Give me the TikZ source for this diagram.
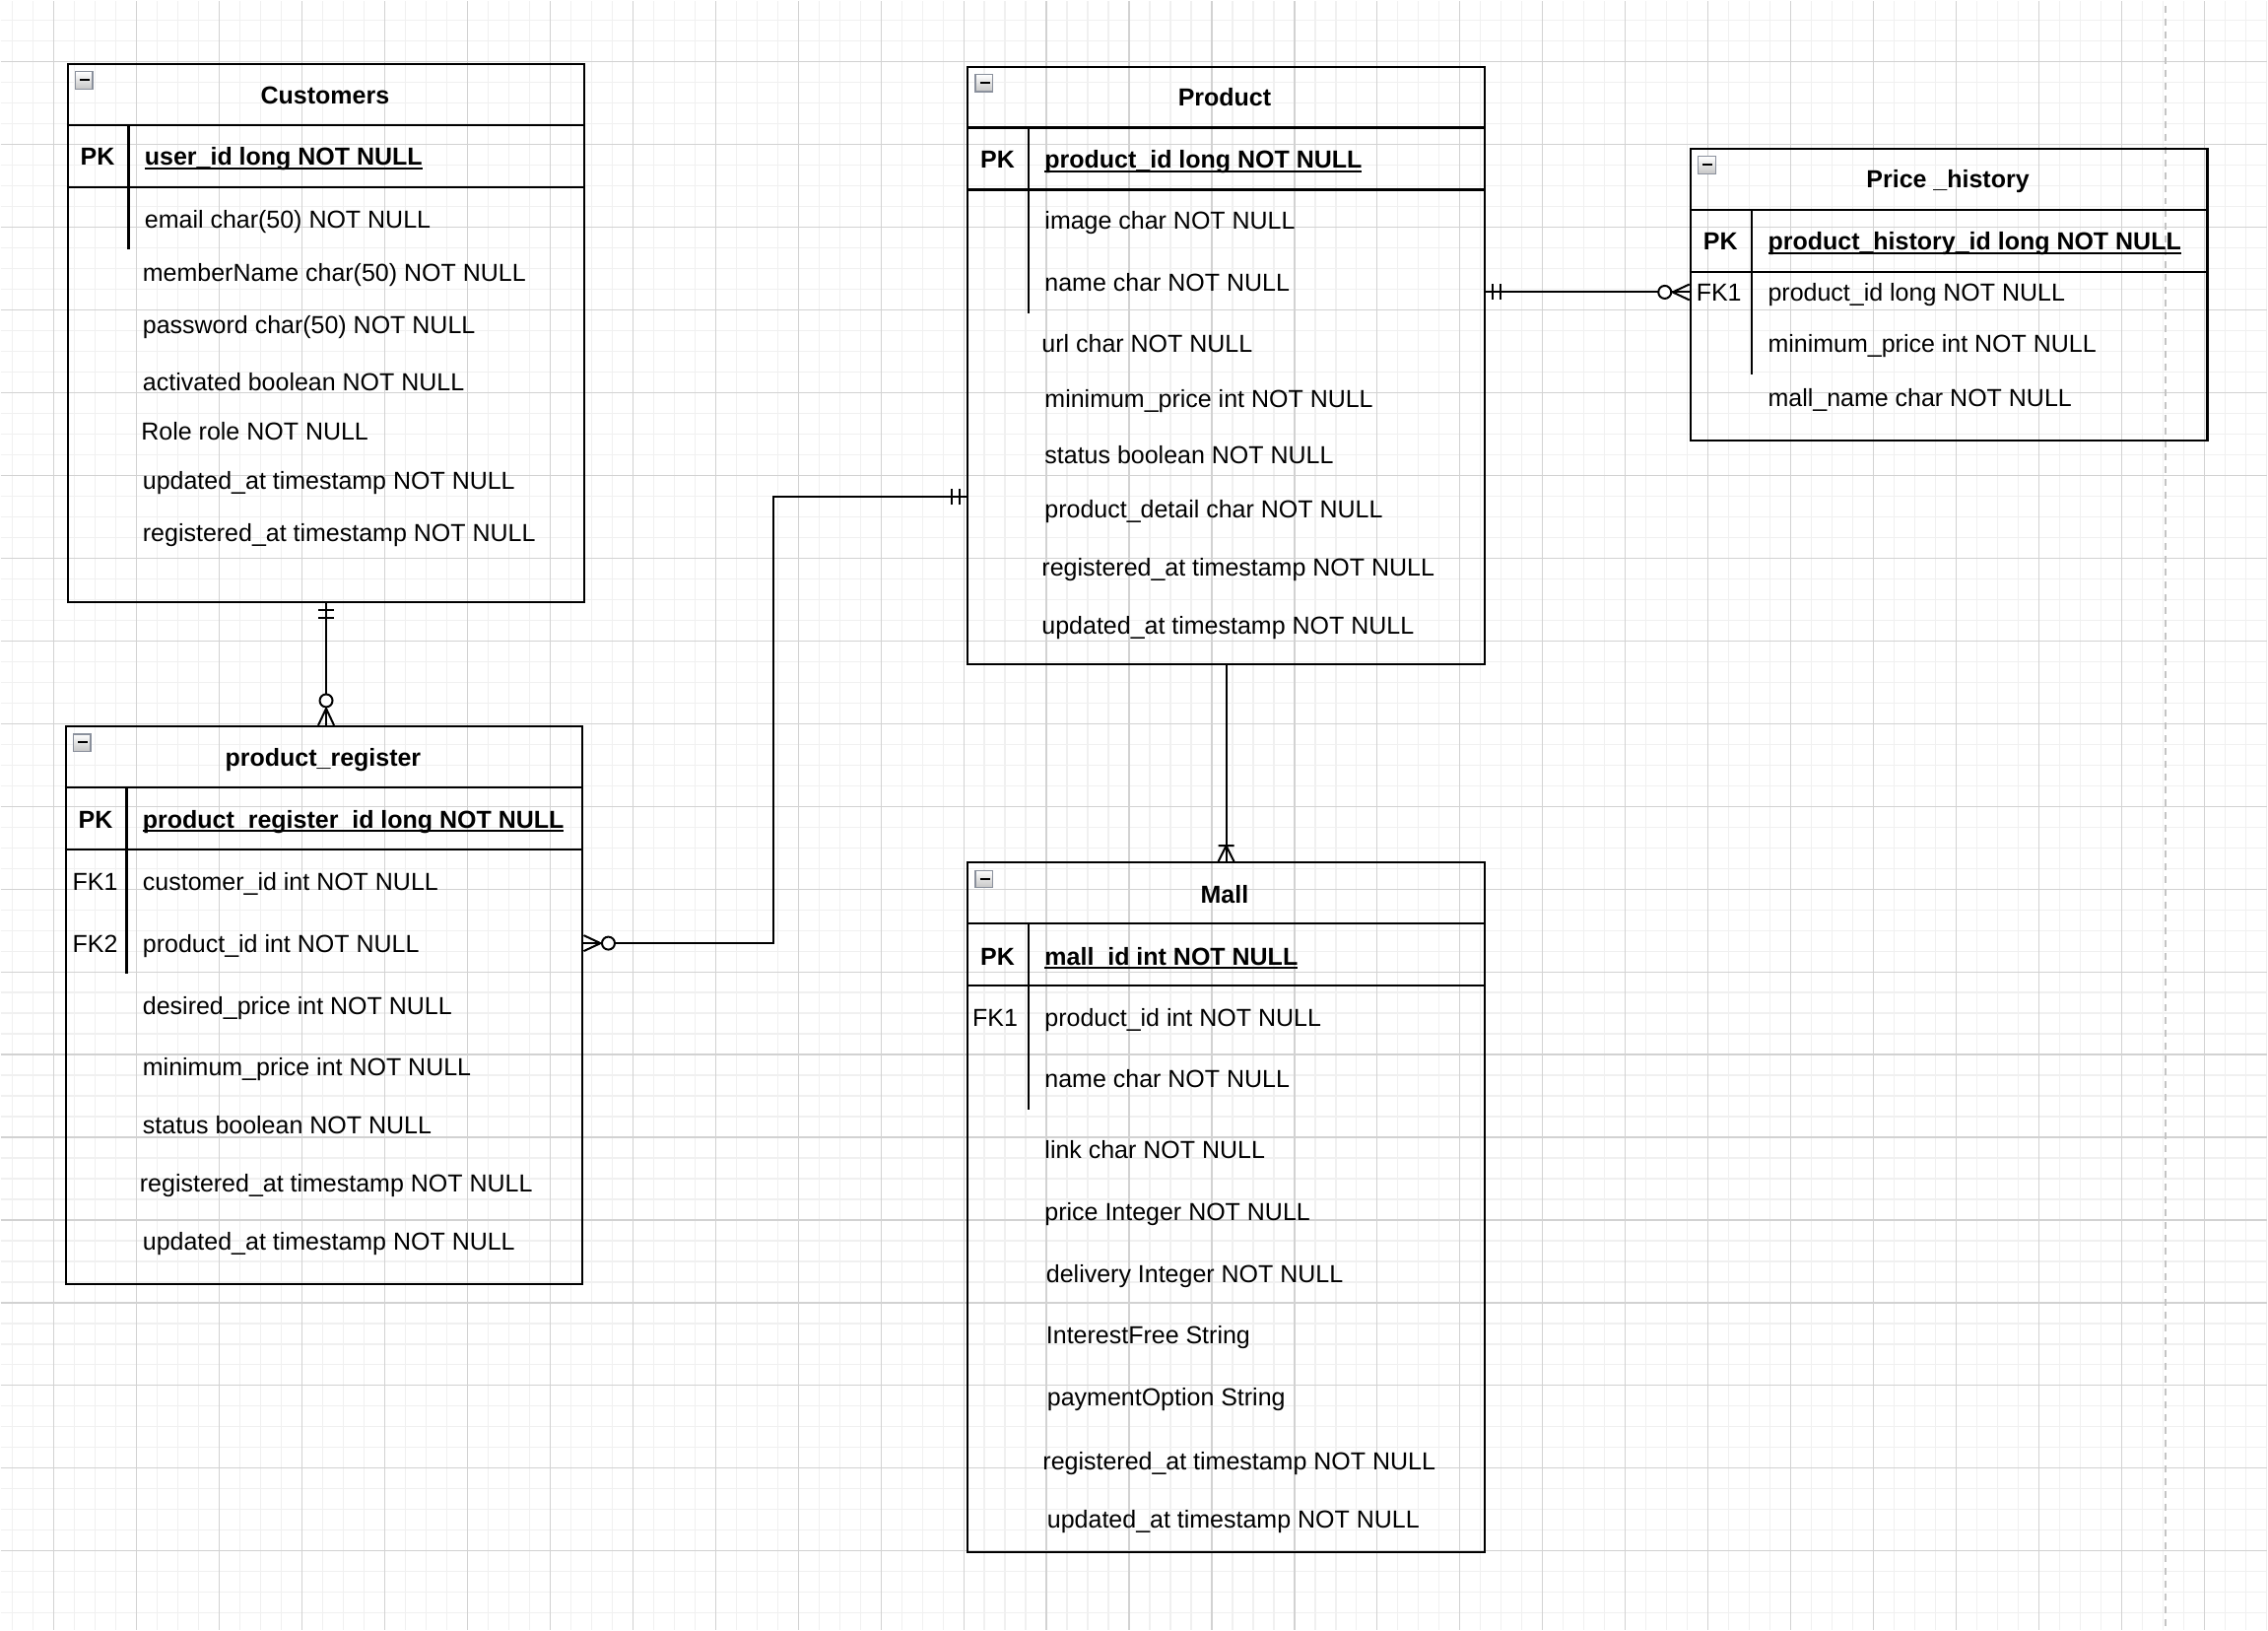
\documentclass[tikz,border=0pt]{standalone}
\usepackage{fontspec}
\setmainfont{Liberation Sans}
\usepackage{xcolor}
\usepackage{tikz}
\usetikzlibrary{positioning, calc}

\definecolor{gridminor}{HTML}{F0F0F0}
\definecolor{gridmajor}{HTML}{D2D2D2}
\definecolor{pagecut}{HTML}{C4C4C4}
\definecolor{iconedge}{HTML}{8A909C}

\newcommand{\erfont}{\fontsize{12.5}{15}\selectfont}
\newsavebox{\pkbox}
\newcommand{\pkfield}[1]{\sbox{\pkbox}{#1}\rlap{\rule[-2.1pt]{\wd\pkbox}{1pt}}\usebox{\pkbox}}

\begin{document}
\begin{tikzpicture}[
    x=0.5pt, y=-0.5pt,
    ertable/.style={draw, rectangle, line width=1.1pt, inner sep=0pt, anchor=north west, minimum width=262.5pt},
    tline/.style={line width=1.1pt},
    tabtitle/.style={font=\erfont\bfseries, inner sep=0pt, text height=8.95pt, text depth=0pt},
    keycell/.style={font=\erfont, inner sep=0pt, text height=8.95pt, text depth=0pt},
    pkcell/.style={keycell, font=\erfont\bfseries},
    rowcell/.style={font=\erfont, anchor=west, inner sep=0pt, text height=8.95pt, text depth=0pt},
    pkrow/.style={rowcell, font=\erfont\bfseries},
    rel/.style={line width=1pt},
    cutline/.style={draw=pagecut, line width=1pt, dash pattern=on 3.5pt off 3pt},
    foldicon/.pic={
        \draw[draw=iconedge, line width=0.6pt, top color=white, bottom color=gray!45] (9,9) rectangle (26.5,26.5);
        \draw[line width=1pt] (13.5,17.5) -- (23.5,17.5);
    },
    erone/.pic={\draw[rel] (7,-8) -- (7,8) (15,-8) -- (15,8);},
    erzeromany/.pic={
        \draw[rel] (0,-8) -- (17,0) -- (0,8);
        \draw[rel, fill=white] (25,0) circle (6.5);
    },
    eronemany/.pic={\draw[rel] (0,-8) -- (16,0) -- (0,8) (16,-8) -- (16,8);}
]
% --- CANVAS GRID ---
\fill[white] (0,0) rectangle (2302,1654);
\begin{scope}[shift={(12,20)}]
\draw[gridminor, line width=0.6pt, step=10.5pt] (-12,1634) grid (2290,-20);
\end{scope}
\begin{scope}[shift={(54,62)}]
\draw[gridmajor, line width=0.6pt, step=42pt] (-54,1592) grid (2248,-62);
\end{scope}
\useasboundingbox (0,0) rectangle (2302,1654);
\draw[cutline] (2199,5) -- (2199,1654);

% --- CUSTOMERS ---
\node[ertable, minimum height=273pt] (cust) at (67,63.3) {};
\pic at (cust.north west) {foldicon};
\draw[tline] ([yshift=-31.5pt]cust.north west) -- ([yshift=-31.5pt]cust.north east);
\draw[tline] ([yshift=-63pt]cust.north west) -- ([yshift=-63pt]cust.north east);
\draw[tline] ([xshift=31.5pt, yshift=-31.5pt]cust.north west) -- ++(0,126);
\node[tabtitle] (cust-title) at (329.5,96) {Customers};
\node[pkcell] (cust-pk) at (98.5,158.5) {PK};
\node[pkrow] (cust-id) at (146,158.5) {\pkfield{user\_id long NOT NULL}};
\node[rowcell] (cust-email) at (146,221.7) {email char(50) NOT NULL};
\node[rowcell] (cust-member) at (144,276) {memberName char(50) NOT NULL};
\node[rowcell] (cust-pass) at (144,329) {password char(50) NOT NULL};
\node[rowcell] (cust-active) at (144,387.5) {activated boolean NOT NULL};
\node[rowcell] (cust-role) at (142.5,437.5) {Role role NOT NULL};
\node[rowcell] (cust-upd) at (144,487.5) {updated\_at timestamp NOT NULL};
\node[rowcell] (cust-reg) at (144,540) {registered\_at timestamp NOT NULL};

% --- PRODUCT_REGISTER ---
\node[ertable, minimum height=283pt] (preg) at (65,735.7) {};
\pic at (preg.north west) {foldicon};
\draw[tline] ([yshift=-31.5pt]preg.north west) -- ([yshift=-31.5pt]preg.north east);
\draw[tline] ([yshift=-63pt]preg.north west) -- ([yshift=-63pt]preg.north east);
\draw[tline] ([xshift=31.5pt, yshift=-31.5pt]preg.north west) -- ++(0,189);
\node[tabtitle] (preg-title) at (327.5,768) {product\_register};
\node[pkcell] (preg-pk) at (96.5,831) {PK};
\node[pkrow] (preg-id) at (144,831) {\pkfield{product\_register\_id long NOT NULL}};
\node[keycell] (preg-fk1) at (96,894) {FK1};
\node[rowcell] (preg-cust) at (144,894) {customer\_id int NOT NULL};
\node[keycell] (preg-fk2) at (96,957) {FK2};
\node[rowcell] (preg-prod) at (144,957) {product\_id int NOT NULL};
\node[rowcell] (preg-desired) at (144,1020) {desired\_price int NOT NULL};
\node[rowcell] (preg-min) at (144,1083) {minimum\_price int NOT NULL};
\node[rowcell] (preg-status) at (144,1142) {status boolean NOT NULL};
\node[rowcell] (preg-reg) at (141,1201) {registered\_at timestamp NOT NULL};
\node[rowcell] (preg-upd) at (144,1259.5) {updated\_at timestamp NOT NULL};

% --- PRODUCT ---
\node[ertable, minimum height=303.25pt] (prod) at (981,66) {};
\pic at (prod.north west) {foldicon};
\draw[tline] ([yshift=-31.5pt]prod.north west) -- ([yshift=-31.5pt]prod.north east);
\draw[tline] ([yshift=-63pt]prod.north west) -- ([yshift=-63pt]prod.north east);
\draw[tline] ([xshift=31.5pt, yshift=-31.5pt]prod.north west) -- ++(0,189);
\node[tabtitle] (prod-title) at (1243,98.5) {Product};
\node[pkcell] (prod-pk) at (1012.5,161) {PK};
\node[pkrow] (prod-id) at (1060,161) {\pkfield{product\_id long NOT NULL}};
\node[rowcell] (prod-image) at (1060,223.5) {image char NOT NULL};
\node[rowcell] (prod-name) at (1060,286) {name char NOT NULL};
\node[rowcell] (prod-url) at (1057,348) {url char NOT NULL};
\node[rowcell] (prod-min) at (1060,403.7) {minimum\_price int NOT NULL};
\node[rowcell] (prod-status) at (1060,461) {status boolean NOT NULL};
\node[rowcell] (prod-detail) at (1060,516.7) {product\_detail char NOT NULL};
\node[rowcell] (prod-reg) at (1057,575.5) {registered\_at timestamp NOT NULL};
\node[rowcell] (prod-upd) at (1057,634) {updated\_at timestamp NOT NULL};

% --- PRICE_HISTORY ---
\node[ertable, minimum height=148pt] (ph) at (1715,149.3) {};
\pic at (ph.north west) {foldicon};
\draw[tline] ([yshift=-31.5pt]ph.north west) -- ([yshift=-31.5pt]ph.north east);
\draw[tline] ([yshift=-63pt]ph.north west) -- ([yshift=-63pt]ph.north east);
\draw[tline] ([xshift=31.5pt, yshift=-31.5pt]ph.north west) -- ++(0,167);
\node[tabtitle] (ph-title) at (1977.5,181.5) {Price \_history};
\node[pkcell] (ph-pk) at (1746.5,244) {PK};
\node[pkrow] (ph-id) at (1794.5,244) {\pkfield{product\_history\_id long NOT NULL}};
\node[keycell] (ph-fk1) at (1745,296) {FK1};
\node[rowcell] (ph-prod) at (1794.5,296) {product\_id long NOT NULL};
\node[rowcell] (ph-min) at (1794.5,348.5) {minimum\_price int NOT NULL};
\node[rowcell] (ph-mall) at (1794.5,403.5) {mall\_name char NOT NULL};

% --- MALL ---
\node[ertable, minimum height=350.25pt] (mall) at (981,874) {};
\pic at (mall.north west) {foldicon};
\draw[tline] ([yshift=-31.5pt]mall.north west) -- ([yshift=-31.5pt]mall.north east);
\draw[tline] ([yshift=-63pt]mall.north west) -- ([yshift=-63pt]mall.north east);
\draw[tline] ([xshift=31.5pt, yshift=-31.5pt]mall.north west) -- ++(0,189);
\node[tabtitle] (mall-title) at (1243,907) {Mall};
\node[pkcell] (mall-pk) at (1012.5,970) {PK};
\node[pkrow] (mall-id) at (1060,970) {\pkfield{mall\_id int NOT NULL}};
\node[keycell] (mall-fk1) at (1010,1032.5) {FK1};
\node[rowcell] (mall-prod) at (1060,1032.5) {product\_id int NOT NULL};
\node[rowcell] (mall-name) at (1060,1095) {name char NOT NULL};
\node[rowcell] (mall-link) at (1060,1167) {link char NOT NULL};
\node[rowcell] (mall-price) at (1060,1230) {price Integer NOT NULL};
\node[rowcell] (mall-deliv) at (1061.5,1293) {delivery Integer NOT NULL};
\node[rowcell] (mall-free) at (1061.5,1355) {InterestFree String};
\node[rowcell] (mall-pay) at (1062.5,1418) {paymentOption String};
\node[rowcell] (mall-reg) at (1058,1482.7) {registered\_at timestamp NOT NULL};
\node[rowcell] (mall-upd) at (1062.5,1541.5) {updated\_at timestamp NOT NULL};

% --- RELATIONSHIPS ---
\coordinate (prod-link) at (prod.west |- 0,504);
\draw[rel] (cust.south) -- (cust.south |- preg.north);
\pic[rotate=-90] at (cust.south) {erone};
\pic[rotate=90] at (cust.south |- preg.north) {erzeromany};

\draw[rel] (prod-link) -- ++(-196,0) |- (preg-fk2 -| preg.east);
\pic[rotate=180] at (prod-link) {erone};
\pic at (preg-fk2 -| preg.east) {erzeromany};

\draw[rel] (ph-fk1 -| prod.east) -- (ph-fk1 -| ph.west);
\pic at (ph-fk1 -| prod.east) {erone};
\pic[rotate=180] at (ph-fk1 -| ph.west) {erzeromany};

\draw[rel] (prod.south) -- (mall.north);
\pic[rotate=90] at (mall.north) {eronemany};
\end{tikzpicture}
\end{document}
